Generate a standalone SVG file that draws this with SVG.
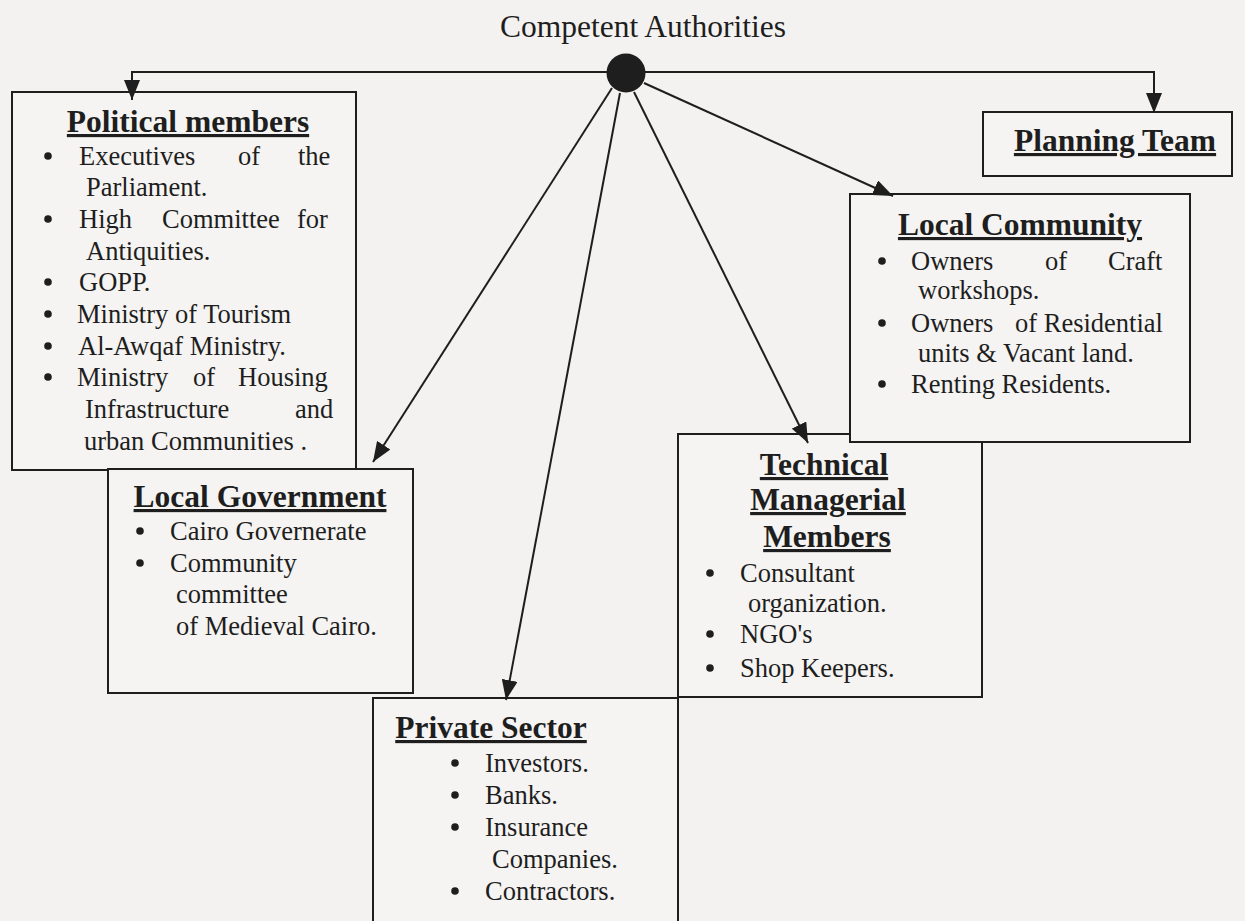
<svg xmlns="http://www.w3.org/2000/svg" width="1245" height="921" viewBox="0 0 1245 921">
<defs>
<style>
.bg{fill:#f3f2f0}
.box{fill:#f5f4f2;stroke:#1e1e1e;stroke-width:2}
.t{font-family:"Liberation Serif","Times New Roman",serif;font-size:26.5px;fill:#1e1e1e}
.h{font-family:"Liberation Serif","Times New Roman",serif;font-size:31.5px;font-weight:bold;fill:#1e1e1e;text-anchor:middle;text-decoration:underline}
.top{font-family:"Liberation Serif","Times New Roman",serif;font-size:31.5px;fill:#1e1e1e;text-anchor:middle}
.b{fill:#1e1e1e}
.c{fill:none;stroke:#1e1e1e;stroke-width:2}
</style>
<marker id="ah" viewBox="0 0 20 16" refX="20" refY="8" markerWidth="20" markerHeight="16" markerUnits="userSpaceOnUse" orient="auto">
<path d="M0,0 L20,8 L0,16 Z" fill="#1e1e1e"/>
</marker>
</defs>
<rect class="bg" x="0" y="0" width="1245" height="921"/>

<text class="top" x="643" y="37">Competent Authorities</text>

<g id="political">
<rect class="box" x="12" y="92" width="344" height="378"/>
<text class="h" x="188" y="132">Political members</text>
<circle class="b" cx="48" cy="156" r="3.8"/>
<text class="t" y="165"><tspan x="79">Executives</tspan><tspan x="238">of</tspan><tspan x="298">the</tspan></text>
<text class="t" x="86" y="196">Parliament.</text>
<circle class="b" cx="48" cy="219" r="3.8"/>
<text class="t" y="228"><tspan x="79">High</tspan><tspan x="162">Committee</tspan><tspan x="297">for</tspan></text>
<text class="t" x="86" y="260">Antiquities.</text>
<circle class="b" cx="48" cy="282" r="3.8"/>
<text class="t" x="79" y="291">GOPP.</text>
<circle class="b" cx="48" cy="314" r="3.8"/>
<text class="t" x="77" y="323">Ministry of Tourism</text>
<circle class="b" cx="48" cy="346" r="3.8"/>
<text class="t" x="78" y="355">Al-Awqaf Ministry.</text>
<circle class="b" cx="48" cy="377" r="3.8"/>
<text class="t" y="386"><tspan x="77">Ministry</tspan><tspan x="193">of</tspan><tspan x="238">Housing</tspan></text>
<text class="t" y="418"><tspan x="85">Infrastructure</tspan><tspan x="295">and</tspan></text>
<text class="t" x="84" y="450">urban Communities .</text>
</g>

<g id="local-government">
<rect class="box" x="108" y="469" width="305" height="224"/>
<text class="h" x="260" y="507">Local Government</text>
<circle class="b" cx="140" cy="531" r="3.8"/>
<text class="t" x="170" y="540">Cairo Governerate</text>
<circle class="b" cx="140" cy="563" r="3.8"/>
<text class="t" x="170" y="572">Community</text>
<text class="t" x="176" y="603">committee</text>
<text class="t" x="176" y="635">of Medieval Cairo.</text>
</g>

<g id="private-sector">
<rect class="box" x="373" y="698" width="305" height="240"/>
<text class="h" x="491" y="738">Private Sector</text>
<circle class="b" cx="455" cy="763" r="3.8"/>
<text class="t" x="485" y="772">Investors.</text>
<circle class="b" cx="455" cy="795" r="3.8"/>
<text class="t" x="485" y="804">Banks.</text>
<circle class="b" cx="455" cy="827" r="3.8"/>
<text class="t" x="485" y="836">Insurance</text>
<text class="t" x="492" y="868">Companies.</text>
<circle class="b" cx="455" cy="891" r="3.8"/>
<text class="t" x="485" y="900">Contractors.</text>
</g>

<g id="technical">
<rect class="box" x="678" y="434" width="304" height="263"/>
<text class="h" x="824" y="475">Technical</text>
<text class="h" x="828" y="510">Managerial</text>
<text class="h" x="827" y="547">Members</text>
<circle class="b" cx="710" cy="573" r="3.8"/>
<text class="t" x="740" y="582">Consultant</text>
<text class="t" x="748" y="612">organization.</text>
<circle class="b" cx="710" cy="634" r="3.8"/>
<text class="t" x="740" y="643">NGO's</text>
<circle class="b" cx="710" cy="668" r="3.8"/>
<text class="t" x="740" y="677">Shop Keepers.</text>
</g>

<g id="local-community">
<rect class="box" x="850" y="194" width="340" height="248"/>
<text class="h" x="1020" y="235">Local Community</text>
<circle class="b" cx="882" cy="261" r="3.8"/>
<text class="t" y="270"><tspan x="911">Owners</tspan><tspan x="1045">of</tspan><tspan x="1108">Craft</tspan></text>
<text class="t" x="918" y="299">workshops.</text>
<circle class="b" cx="882" cy="323" r="3.8"/>
<text class="t" y="332"><tspan x="911">Owners</tspan><tspan x="1015">of Residential</tspan></text>
<text class="t" x="918" y="362">units &amp; Vacant land.</text>
<circle class="b" cx="882" cy="384" r="3.8"/>
<text class="t" x="911" y="393">Renting Residents.</text>
</g>

<g id="planning-team">
<rect class="box" x="983" y="112" width="249" height="64"/>
<text class="h" x="1115" y="151">Planning Team</text>
</g>

<g id="connectors">
<path class="c" d="M626,72 H132 V100" marker-end="url(#ah)"/>
<path class="c" d="M626,72 H1154 V113" marker-end="url(#ah)"/>
<line class="c" x1="612" y1="88" x2="373" y2="462" marker-end="url(#ah)"/>
<line class="c" x1="620" y1="93" x2="506" y2="700" marker-end="url(#ah)"/>
<line class="c" x1="634" y1="92" x2="808" y2="443" marker-end="url(#ah)"/>
<line class="c" x1="644" y1="83" x2="893" y2="196" marker-end="url(#ah)"/>
</g>
<g id="competent-authorities">
<circle cx="626" cy="73" r="19.5" fill="#1e1e1e"/>
</g>
</svg>
